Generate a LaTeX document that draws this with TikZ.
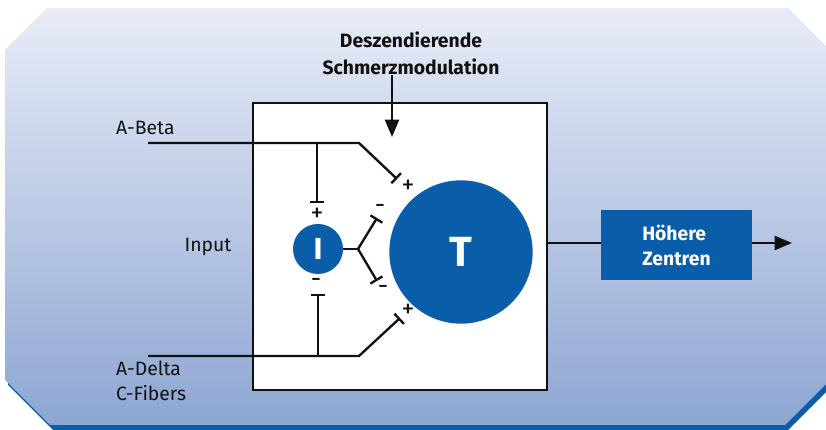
\documentclass[tikz,border=0pt]{standalone}
\usepackage{fontspec}
\setsansfont{Fira Sans}
\usetikzlibrary{positioning,calc,arrows.meta}
\definecolor{nblue}{HTML}{0A5DA8}
\definecolor{bgtop}{HTML}{E8ECF7}
\definecolor{bgbot}{HTML}{8DA6D3}
\definecolor{ink}{HTML}{111111}
\tikzset{
  every node/.append style={font=\sffamily},
  wire/.style={line width=2pt, draw=ink},
  inh/.style={wire, -{Bar[width=0.42cm]}},
  arr/.style={wire, -{Triangle[length=0.52cm, width=0.42cm]}},
  cell/.style={circle, fill=nblue, text=white, inner sep=0pt},
  sgn/.style={font=\sffamily\fontsize{22}{22}\selectfont, text=ink, inner sep=0pt},
  lbl/.style={font=\sffamily\fontsize{16.5}{21}\selectfont, text=ink, align=left, inner sep=0pt},
  hdr/.style={font=\sffamily\bfseries\fontsize{16.5}{23}\selectfont, text=ink, align=center, inner sep=0pt},
  centre/.style={rectangle, fill=nblue, text=white, align=left,
                 minimum width=4.53cm, minimum height=2.1cm,
                 font=\sffamily\bfseries\fontsize{16.5}{21}\selectfont},
}

\begin{document}
\begin{tikzpicture}[x=0.03cm, y=-0.03cm]
  \useasboundingbox (0,0) rectangle (826,430);
  \clip (0,0) rectangle (826,430);
  % backdrop with its blue shadow
  \fill[nblue, shift={(3,5)}] (5,50) -- (47,8) -- (788,8) -- (832,52) -- (832,378)
    -- (785,425) -- (50,425) -- (5,380) -- cycle;
  \shade[top color=bgtop, bottom color=bgbot] (5,50) -- (47,8) -- (788,8) -- (832,52)
    -- (832,378) -- (785,425) -- (50,425) -- (5,380) -- cycle;

  % dorsal horn box
  \node[draw=ink, line width=2.2pt, fill=white, minimum width=8.82cm,
        minimum height=8.61cm, inner sep=0pt] (core) at (400,246.5) {};
  \node[cell, minimum size=4.3cm, font=\sffamily\bfseries\fontsize{36}{36}\selectfont]
    (T) at (461,252) {T};
  \node[cell, minimum size=1.5cm, font=\sffamily\bfseries\fontsize{26}{26}\selectfont]
    (I) at (318,249) {I};

  % labels
  \node[hdr] (desc) at (411,53) {Deszendierende\\Schmerzmodulation};
  \node[lbl, anchor=west] (abeta) at (116,128) {A-Beta};
  \node[lbl] (input) at (208,247) {Input};
  \node[lbl, anchor=north west] (adelta) at (116,361) {A-Delta\\C-Fibers};
  \node[centre] (hz) at (676.5,245.5) {H\"ohere\\Zentren};

  % wiring points
  \coordinate (ab0) at (148,143);  \coordinate (ab1) at (359,143);
  \coordinate (abI) at (317,143);  \coordinate (Itop) at (317,203);
  \coordinate (abT) at (397,179);
  \coordinate (ad0) at (148,356);  \coordinate (ad1) at (359,356);
  \coordinate (adI) at (318,356);  \coordinate (Ibot) at (318,294);
  \coordinate (adT) at (400,318);
  \coordinate (fork) at (358,249);
  \coordinate (fkup) at (377,218); \coordinate (fkdn) at (377,281);
  \coordinate (modin) at (392,137);
  \coordinate (outtip) at (792,243);

  % fibres
  \draw[inh] (ab0) -- (ab1) -- (abT);
  \draw[inh] (abI) -- (Itop);
  \draw[inh] (ad0) -- (ad1) -- (adT);
  \draw[inh] (adI) -- (Ibot);
  \draw[wire] (I.east) -- (fork);
  \draw[inh] (fork) -- (fkup);
  \draw[inh] (fork) -- (fkdn);

  % signs
  \node[sgn] (s1) at (408,187) {+};
  \node[sgn] (s2) at (317,215) {+};
  \node[sgn] (s3) at (380,209) {-};
  \node[sgn] (s4) at (383,290) {-};
  \node[sgn] (s5) at (316,283) {-};
  \node[sgn] (s6) at (408,311) {+};

  % descending input and output
  \draw[arr] (desc.south -| modin) -- (modin);
  \draw[wire] (core.east |- outtip) -- (hz.west |- outtip);
  \draw[arr] (hz.east |- outtip) -- (outtip);
\end{tikzpicture}
\end{document}
